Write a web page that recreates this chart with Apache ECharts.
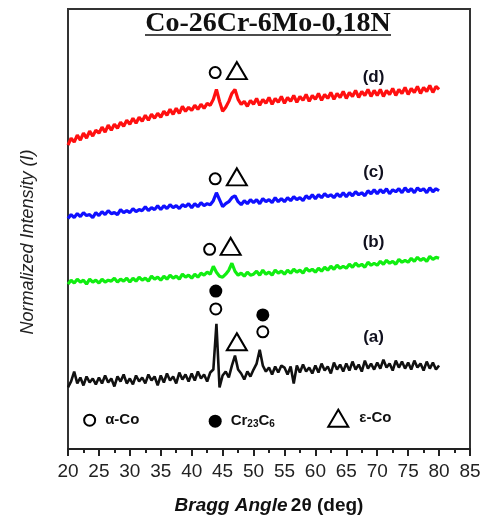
<!DOCTYPE html>
<html>
<head>
<meta charset="utf-8">
<script src="https://cdn.jsdelivr.net/npm/echarts@6/dist/echarts.min.js"></script>
<style>
  html, body { margin: 0; padding: 0; background: #fff; }
  #main { width: 485px; height: 520px; }
</style>
</head>
<body>
<div id="main"></div>
<script>
const angles = [
  20, 20.5, 21, 21.5, 22, 22.5, 23, 23.5, 24, 24.5,
  25, 25.5, 26, 26.5, 27, 27.5, 28, 28.5, 29, 29.5,
  30, 30.5, 31, 31.5, 32, 32.5, 33, 33.5, 34, 34.5,
  35, 35.5, 36, 36.5, 37, 37.5, 38, 38.5, 39, 39.5,
  40, 40.5, 41, 41.5, 42, 42.5, 43, 43.5, 44, 44.5,
  45, 45.5, 46, 46.5, 47, 47.5, 48, 48.5, 49, 49.5,
  50, 50.5, 51, 51.5, 52, 52.5, 53, 53.5, 54, 54.5,
  55, 55.5, 56, 56.5, 57, 57.5, 58, 58.5, 59, 59.5,
  60, 60.5, 61, 61.5, 62, 62.5, 63, 63.5, 64, 64.5,
  65, 65.5, 66, 66.5, 67, 67.5, 68, 68.5, 69, 69.5,
  70, 70.5, 71, 71.5, 72, 72.5, 73, 73.5, 74, 74.5,
  75, 75.5, 76, 76.5, 77, 77.5, 78, 78.5, 79, 79.5,
  80
];

// (a) as-cast
const sampleA = [
  62, 68, 78, 66, 72, 64, 73, 67, 71, 65,
  72, 66, 74, 67, 71, 63, 73, 68, 75, 66,
  71, 65, 74, 68, 72, 66, 75, 69, 73, 64,
  74, 67, 76, 69, 73, 66, 77, 70, 75, 68,
  76, 69, 78, 71, 75, 68, 77, 80, 126, 62,
  74, 78, 72, 84, 94, 80, 76, 70, 78, 73,
  80, 86, 100, 84, 78, 82, 75, 83, 77, 84,
  82, 75, 83, 66, 84, 77, 85, 78, 82, 76,
  84, 77, 86, 79, 83, 76, 87, 80, 85, 78,
  86, 79, 88, 80, 85, 78, 89, 81, 86, 80,
  87, 81, 90, 82, 86, 79, 89, 82, 88, 81,
  87, 80, 89, 82, 86, 79, 88, 81, 87, 80,
  84
];

// (b)
const sampleB = [
  166, 170, 167, 171, 168, 170, 166, 171, 168, 170,
  167, 171, 168, 170, 169, 172, 168, 171, 169, 172,
  168, 172, 169, 173, 170, 172, 169, 174, 171, 173,
  170, 174, 171, 175, 172, 174, 171, 176, 173, 175,
  172, 176, 173, 177, 175, 178, 176, 184, 178, 174,
  173, 176, 180, 187, 179, 175, 177, 174, 178, 175,
  176, 179, 175, 180, 176, 178, 175, 180, 177, 179,
  176, 180, 177, 181, 178, 180, 177, 182, 179, 181,
  178, 182, 179, 183, 180, 184, 181, 185, 182, 184,
  182, 186, 183, 187, 184, 186, 183, 188, 185, 187,
  185, 189, 186, 190, 187, 189, 186, 191, 188, 190,
  188, 192, 189, 193, 190, 192, 189, 194, 191, 193,
  192
];

// (c)
const sampleC = [
  232, 236, 233, 237, 234, 238, 235, 236, 233, 238,
  235, 239, 236, 240, 237, 238, 236, 241, 238, 240,
  238, 242, 239, 241, 240, 244, 240, 243, 241, 245,
  241, 245, 242, 246, 243, 245, 242, 246, 244, 247,
  243, 247, 244, 248, 245, 247, 246, 250, 258, 251,
  244, 247, 249, 253, 255, 249, 246, 250, 247, 251,
  248, 251, 247, 252, 249, 251, 248, 253, 249, 252,
  249, 253, 250, 254, 251, 253, 250, 255, 252, 256,
  252, 256, 253, 257, 254, 256, 253, 257, 254, 258,
  254, 258, 255, 259, 256, 258, 255, 260, 257, 261,
  257, 261, 258, 262, 257, 261, 259, 262, 258, 263,
  259, 262, 258, 263, 260, 262, 258, 263, 259, 262,
  260
];

// (d)
const sampleD = [
  306, 313, 309, 316, 311, 318, 313, 320, 315, 321,
  318, 324, 319, 326, 321, 327, 323, 329, 325, 331,
  327, 333, 328, 334, 330, 336, 331, 337, 333, 338,
  334, 340, 336, 342, 337, 343, 338, 345, 340, 344,
  341, 346, 342, 347, 343, 348, 346, 352, 362, 350,
  340, 344, 350, 358, 362, 352, 347, 350, 345, 351,
  347, 353, 346, 352, 348, 354, 347, 353, 349, 355,
  348, 354, 350, 356, 349, 355, 351, 357, 350, 356,
  352, 358, 351, 357, 353, 359, 352, 358, 354, 360,
  353, 359, 355, 361, 354, 360, 356, 362, 355, 361,
  356, 362, 355, 361, 357, 363, 356, 362, 358, 364,
  357, 363, 359, 365, 358, 364, 360, 366, 359, 365,
  362
];

// phase marks over the peaks: [angle, height, phase]
const phaseMarks = [
  [43.8, 379, 'alpha'], [47.3, 381, 'eps'],
  [43.8, 272, 'alpha'], [47.3, 274, 'eps'],
  [42.9, 201, 'alpha'], [46.3, 204, 'eps'],
  [43.9, 159, 'carbide'], [43.9, 141, 'alpha'], [47.3, 108, 'eps'],
  [51.5, 135, 'carbide'], [51.5, 118, 'alpha']
];

const curveLabels = [[69.4, 374, '(d)'], [69.4, 279, '(c)'], [69.4, 208, '(b)'], [69.4, 112, '(a)']];

const keyItems = [
  [23.5, 29, 'alpha', '{t|α-Co}'],
  [43.8, 28, 'carbide', '{t|Cr}{s|23}{t|C}{s|6}'],
  [63.7, 31, 'eps', '{t|ε-Co}']
];

const pair = (ys) => angles.map((a, i) => [a, ys[i]]);

function phaseSymbol(kind) {
  if (kind === 'eps') {
    return { symbol: 'triangle', symbolSize: [20, 17],
      itemStyle: { color: '#fff', borderColor: '#000', borderWidth: 2, opacity: 1 } };
  }
  if (kind === 'carbide') {
    return { symbol: 'circle', symbolSize: 13, itemStyle: { color: '#000', opacity: 1 } };
  }
  return { symbol: 'circle', symbolSize: 11,
    itemStyle: { color: '#fff', borderColor: '#000', borderWidth: 2, opacity: 1 } };
}

const lineSeries = (ys, color, width) => ({
  type: 'line',
  data: pair(ys),
  showSymbol: false,
  symbol: 'none',
  silent: true,
  lineStyle: { color: color, width: width },
  z: 2,
});

const myChart = echarts.init(document.getElementById('main'));

myChart.setOption({
  animation: false,
  grid: {
    left: 68, right: 15, top: 9, bottom: 68,
    show: true, borderColor: '#333', borderWidth: 2,
  },
  xAxis: {
    type: 'value',
    min: 20,
    max: 85,
    interval: 5,
    name: '{i|Bragg Angle} {n|2θ (deg)}',
    nameLocation: 'middle',
    nameGap: 47,
    nameTextStyle: {
      rich: {
        i: { fontSize: 19, fontWeight: 'bold', fontStyle: 'italic', fontFamily: 'Liberation Sans', color: '#111' },
        n: { fontSize: 19, fontWeight: 'bold', fontFamily: 'Liberation Sans', color: '#111' },
      },
    },
    axisLine: { lineStyle: { color: '#222', width: 2 } },
    axisTick: { length: 7, lineStyle: { color: '#222', width: 2 } },
    minorTick: { show: true, splitNumber: 2, length: 4, lineStyle: { color: '#222', width: 2 } },
    axisLabel: { fontSize: 19, color: '#222', margin: 13, fontFamily: 'Liberation Sans' },
    splitLine: { show: false },
  },
  yAxis: {
    type: 'value',
    min: 0,
    max: 443,
    axisLine: { show: false },
    axisTick: { show: false },
    axisLabel: { show: false },
    splitLine: { show: false },
  },
  graphic: [
    {
      type: 'text',
      x: 268, y: 24,
      style: {
        text: 'Co-26Cr-6Mo-0,18N',
        font: 'bold 28px "Liberation Serif"',
        fill: '#111',
        textAlign: 'center',
        textVerticalAlign: 'middle',
      },
    },
    {
      type: 'line',
      shape: { x1: 145, y1: 35, x2: 391, y2: 35 },
      style: { stroke: '#111', lineWidth: 1.5 },
    },
    {
      type: 'text',
      x: 28, y: 242,
      rotation: Math.PI / 2,
      style: {
        text: 'Normalized Intensity (I)',
        font: 'italic 18px "Liberation Sans"',
        fill: '#222',
        textAlign: 'center',
        textVerticalAlign: 'middle',
      },
    },
  ],
  series: [
    lineSeries(sampleA, '#111111', 2.6),
    lineSeries(sampleB, '#11ee11', 3.2),
    lineSeries(sampleC, '#1010ff', 3.2),
    lineSeries(sampleD, '#ff1010', 3.2),
    {
      type: 'scatter',
      silent: true,
      z: 5,
      data: phaseMarks.map((m) => Object.assign({ value: [m[0], m[1]] }, phaseSymbol(m[2]))),
    },
    {
      type: 'scatter',
      silent: true,
      z: 5,
      symbolSize: 1,
      itemStyle: { color: 'transparent', opacity: 1 },
      label: {
        show: true,
        position: 'inside',
        formatter: (p) => p.data[2],
        fontSize: 17,
        fontWeight: 'bold',
        fontFamily: 'Liberation Sans',
        color: '#10101e',
      },
      data: curveLabels,
    },
    {
      type: 'scatter',
      silent: true,
      z: 5,
      data: keyItems.map((k) => Object.assign({
        value: [k[0], k[1]],
        label: {
          show: true,
          position: 'right',
          distance: k[2] === 'eps' ? 10 : 9,
          formatter: k[3],
          rich: {
            t: { fontSize: 15, fontWeight: 'bold', fontFamily: 'Liberation Sans', color: '#111' },
            s: { fontSize: 10, fontWeight: 'bold', fontFamily: 'Liberation Sans', color: '#111', verticalAlign: 'bottom', padding: [6, 0, 0, 0] },
          },
        },
      }, phaseSymbol(k[2]))),
    },
  ],
});
</script>
</body>
</html>
